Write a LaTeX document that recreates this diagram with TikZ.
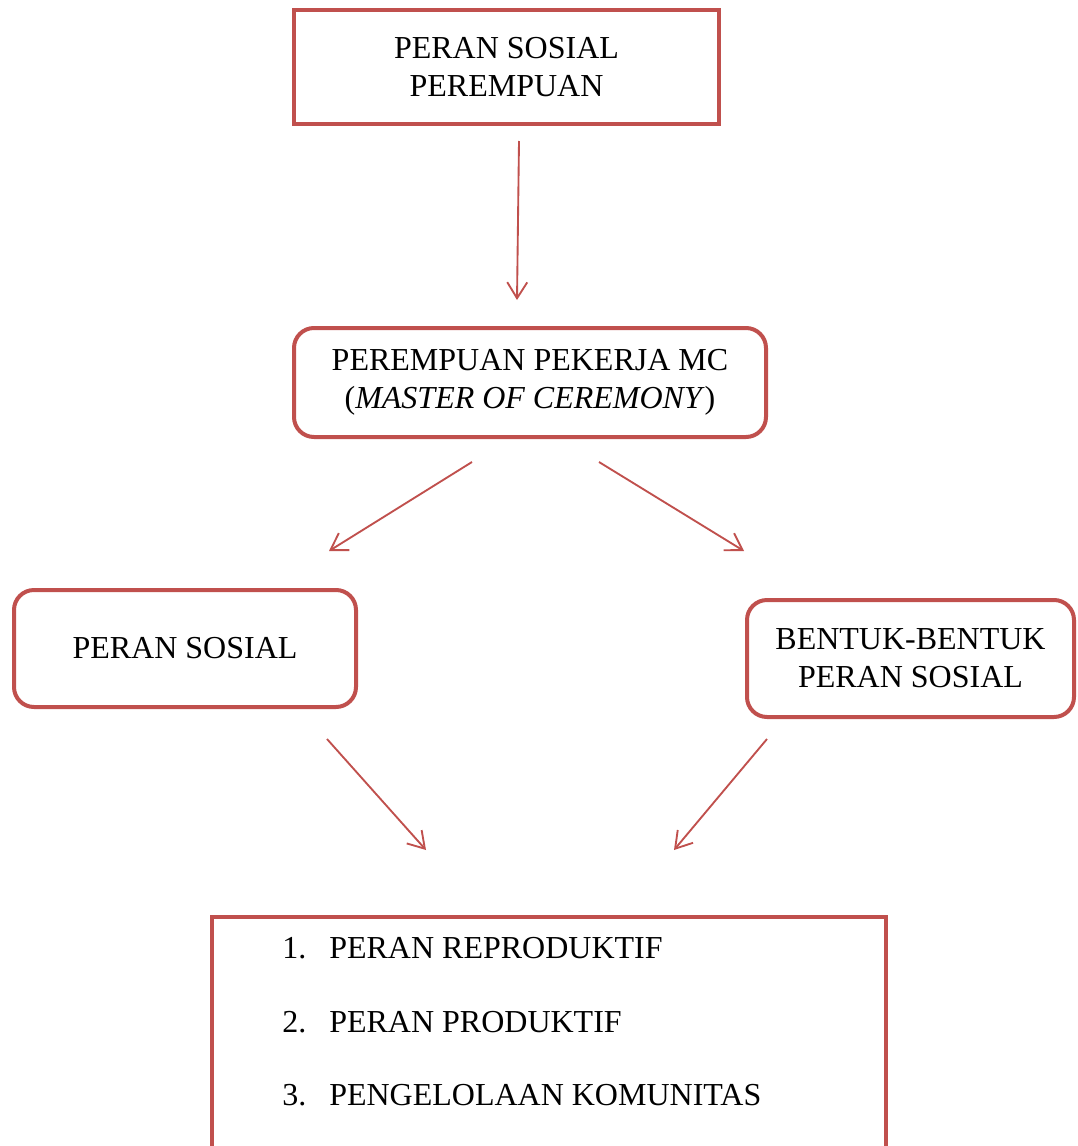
\documentclass[tikz,border=0pt]{standalone}
\usepackage{fontspec}
\setmainfont{Liberation Serif}
\usetikzlibrary{arrows.meta}
\definecolor{accred}{HTML}{C0504D}
\tikzset{
  boxbase/.style={draw=accred, line width=3pt, inner sep=0pt, outer sep=0pt, align=center,
    font=\fontsize{24}{28.5}\selectfont},
  sqbox/.style={boxbase},
  rndbox/.style={boxbase, rounded corners=15pt},
  conn/.style={draw=accred, line width=1.4pt, -{Straight Barb[length=12pt,width=15pt,line width=1.4pt]}},
  itemtxt/.style={anchor=base west, inner sep=0pt, font=\fontsize{24}{28.5}\selectfont}
}
\begin{document}
\begin{tikzpicture}[x=0.75pt,y=-0.75pt]
\useasboundingbox (0,0) rectangle (1078,1146);
\node[sqbox, minimum width=425*0.75pt, minimum height=114*0.75pt] (top) at (506.5,67) {PERAN SOSIAL\\PEREMPUAN};
\node[rndbox, minimum width=472*0.75pt, minimum height=109*0.75pt] (mc) at (530,382.5) {PEREMPUAN PEKERJA MC\\(\textit{MASTER OF CEREMONY})};
\node[rndbox, minimum width=342*0.75pt, minimum height=117*0.75pt] (ps) at (185,648.5) {PERAN SOSIAL};
\node[rndbox, minimum width=327*0.75pt, minimum height=117*0.75pt] (bp) at (910.5,658.5) {BENTUK-BENTUK\\PERAN SOSIAL};
\node[sqbox, minimum width=674*0.75pt, minimum height=260*0.75pt] (list) at (549,1047) {};
\node[itemtxt] (n1) at (282,958) {1.};
\node[itemtxt] (i1) at (329,958) {PERAN REPRODUKTIF};
\node[itemtxt] (n2) at (282,1032) {2.};
\node[itemtxt] (i2) at (329,1032) {PERAN PRODUKTIF};
\node[itemtxt] (n3) at (282,1105) {3.};
\node[itemtxt] (i3) at (329,1105) {PENGELOLAAN KOMUNITAS};
\coordinate (a1s) at (519,141);
\coordinate (a1e) at (517,300);
\coordinate (a2s) at (472,462);
\coordinate (a2e) at (329,551);
\coordinate (a3s) at (599,462);
\coordinate (a3e) at (744,551);
\coordinate (a4s) at (327,739);
\coordinate (a4e) at (426,850);
\coordinate (a5s) at (767,739);
\coordinate (a5e) at (674,850);
\draw[conn] (a1s) -- (a1e);
\draw[conn] (a2s) -- (a2e);
\draw[conn] (a3s) -- (a3e);
\draw[conn] (a4s) -- (a4e);
\draw[conn] (a5s) -- (a5e);
\end{tikzpicture}
\end{document}
